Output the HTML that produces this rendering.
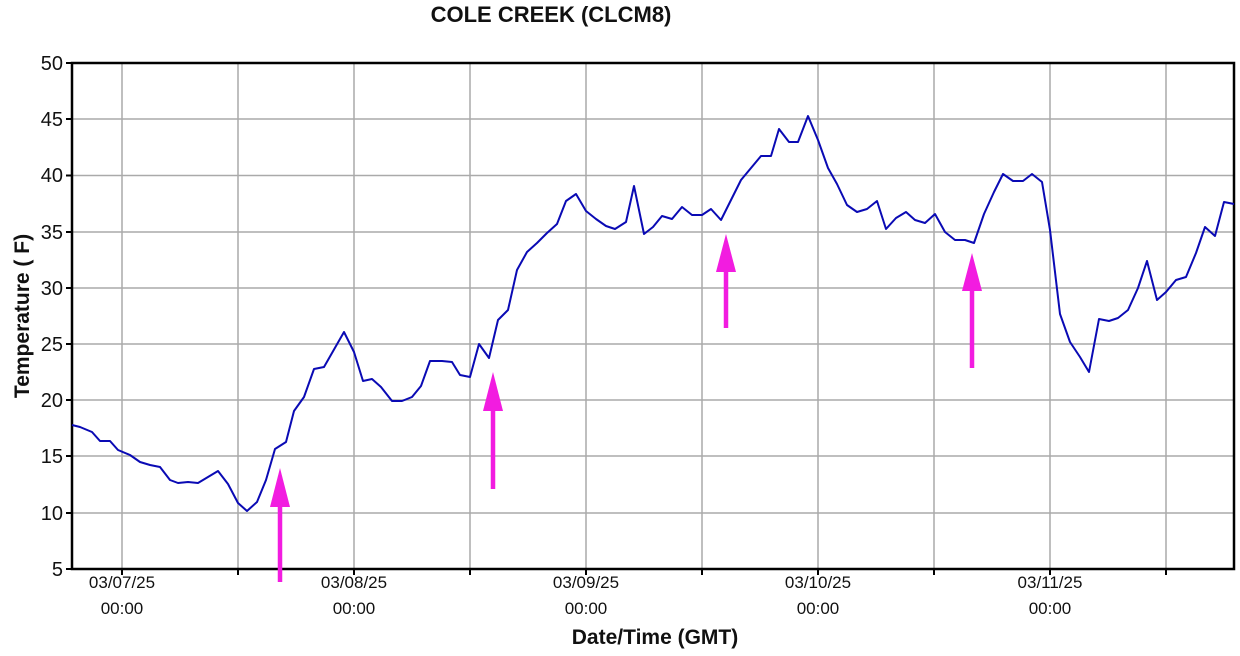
<!DOCTYPE html>
<html><head><meta charset="utf-8"><style>
html,body{margin:0;padding:0;background:#fff;}
svg{display:block;font-family:"Liberation Sans",Arial,sans-serif;}
</style></head><body>
<svg width="1240" height="656" viewBox="0 0 1240 656" xmlns="http://www.w3.org/2000/svg">
<rect width="1240" height="656" fill="#fff"/>
<text x="551" y="22" text-anchor="middle" font-size="22" font-weight="bold" fill="#111">COLE CREEK (CLCM8)</text>
<g stroke="#aaa" stroke-width="1.5">
<line x1="72" y1="119" x2="1234" y2="119"/><line x1="72" y1="175.5" x2="1234" y2="175.5"/>
<line x1="72" y1="232" x2="1234" y2="232"/><line x1="72" y1="288" x2="1234" y2="288"/>
<line x1="72" y1="344" x2="1234" y2="344"/><line x1="72" y1="400" x2="1234" y2="400"/>
<line x1="72" y1="456" x2="1234" y2="456"/><line x1="72" y1="513" x2="1234" y2="513"/>
<line x1="122" y1="63" x2="122" y2="569"/><line x1="238" y1="63" x2="238" y2="569"/>
<line x1="354" y1="63" x2="354" y2="569"/><line x1="470" y1="63" x2="470" y2="569"/>
<line x1="586" y1="63" x2="586" y2="569"/><line x1="702" y1="63" x2="702" y2="569"/>
<line x1="818" y1="63" x2="818" y2="569"/><line x1="934" y1="63" x2="934" y2="569"/>
<line x1="1050" y1="63" x2="1050" y2="569"/><line x1="1166" y1="63" x2="1166" y2="569"/>
</g>
<rect x="72" y="63" width="1162" height="506" fill="none" stroke="#000" stroke-width="2.5"/>
<g stroke="#000" stroke-width="2">
<line x1="66" y1="63" x2="72" y2="63"/><line x1="66" y1="119" x2="72" y2="119"/><line x1="66" y1="175.5" x2="72" y2="175.5"/><line x1="66" y1="232" x2="72" y2="232"/><line x1="66" y1="288" x2="72" y2="288"/><line x1="66" y1="344" x2="72" y2="344"/><line x1="66" y1="400" x2="72" y2="400"/><line x1="66" y1="456" x2="72" y2="456"/><line x1="66" y1="513" x2="72" y2="513"/><line x1="66" y1="569" x2="72" y2="569"/>
<line x1="122" y1="569" x2="122" y2="575"/><line x1="238" y1="569" x2="238" y2="575"/><line x1="354" y1="569" x2="354" y2="575"/><line x1="470" y1="569" x2="470" y2="575"/><line x1="586" y1="569" x2="586" y2="575"/><line x1="702" y1="569" x2="702" y2="575"/><line x1="818" y1="569" x2="818" y2="575"/><line x1="934" y1="569" x2="934" y2="575"/><line x1="1050" y1="569" x2="1050" y2="575"/><line x1="1166" y1="569" x2="1166" y2="575"/>
</g>
<g font-size="20" fill="#111" text-anchor="end">
<text x="63" y="70">50</text><text x="63" y="126">45</text><text x="63" y="182">40</text><text x="63" y="239">35</text><text x="63" y="295">30</text><text x="63" y="351">25</text><text x="63" y="407">20</text><text x="63" y="463">15</text><text x="63" y="520">10</text><text x="63" y="576">5</text>
</g>
<g font-size="17" fill="#111" text-anchor="middle">
<text x="122" y="588">03/07/25</text><text x="122" y="614">00:00</text>
<text x="354" y="588">03/08/25</text><text x="354" y="614">00:00</text>
<text x="586" y="588">03/09/25</text><text x="586" y="614">00:00</text>
<text x="818" y="588">03/10/25</text><text x="818" y="614">00:00</text>
<text x="1050" y="588">03/11/25</text><text x="1050" y="614">00:00</text>
</g>
<text x="655" y="644" text-anchor="middle" font-size="21" font-weight="bold" fill="#111">Date/Time (GMT)</text>
<text transform="translate(29,316) rotate(-90)" text-anchor="middle" font-size="21" font-weight="bold" fill="#111">Temperature ( F)</text>
<polyline fill="none" stroke="#0a0ab4" stroke-width="2" stroke-linejoin="round" points="72,425 80,427 92,432 100,441 110,441 118,450 130,455 140,462 150,465 160,467 170,480 178,483 188,482 198,483 208,477 218,471 228,484 238,503 247,511 257,502 266,480 275,449 286,442 294,411 304,397 314,369 324,367 344,332 354,352 363,381 372,379 381,387 392,401 402,401 412,397 421,386 430,361 442,361 452,362 460,375 470,377 479,344 489,358 498,320 508,310 517,270 527,252 537,243 547,233 557,224 566,201 576,194 586,211 596,219 606,226 615,229 626,222 634,186 644,234 653,227 662,216 672,219 682,207 692,215 702,215 711,209 721,220 731,200 741,180 751,168 761,156 771,156 779,129 789,142 798,142 808,116 818,140 828,168 837,184 847,205 857,212 867,209 877,201 886,229 896,218 906,212 915,220 925,223 935,214 945,232 955,240 965,240 974,243 984,214 994,192 1003,174 1013,181 1023,181 1032,174 1042,182 1050,230 1060,314 1070,342 1080,357 1089,372 1099,319 1109,321 1118,318 1128,310 1138,288 1147,261 1157,300 1166,292 1176,280 1186,277 1196,253 1205,227 1215,236 1224,202 1234,204"/>
<g fill="#f21ce0" stroke="#f21ce0">
<line x1="280" y1="582" x2="280" y2="500" stroke-width="4.5"/><polygon points="270,507 290,507 280,468" stroke="none"/>
<line x1="493" y1="489" x2="493" y2="405" stroke-width="4.5"/><polygon points="483,411 503,411 493,372" stroke="none"/>
<line x1="726" y1="328" x2="726" y2="265" stroke-width="4.5"/><polygon points="716,272 736,272 726,234" stroke="none"/>
<line x1="972" y1="368" x2="972" y2="285" stroke-width="4.5"/><polygon points="962,291 982,291 972,253" stroke="none"/>
</g>
</svg>
</body></html>
